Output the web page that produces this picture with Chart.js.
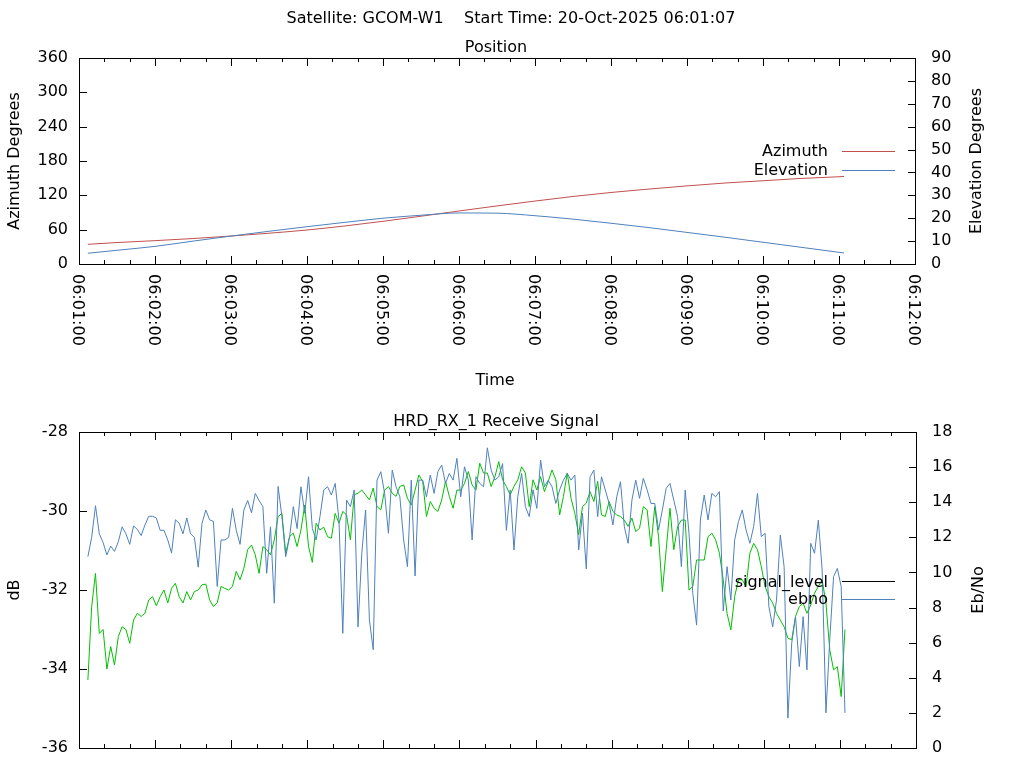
<!DOCTYPE html>
<html>
<head>
<meta charset="utf-8">
<title>GCOM-W1 pass</title>
<script src="https://cdn.jsdelivr.net/npm/chart.js@4/dist/chart.umd.min.js"></script>
<style>
  body { margin: 0; background: #fff; overflow: hidden; }
  #wrap { position: relative; width: 1024px; height: 768px; }
  canvas { position: absolute; left: 0; }
  #pos { top: 0; }
  #sig { top: 400px; }
</style>
</head>
<body>
<div id="wrap">
  <canvas id="pos" width="1024" height="400"></canvas>
  <canvas id="sig" width="1024" height="368"></canvas>
</div>
<script>
// time axis, seconds after 06:01:00
const timeMin = 0;
const timeMax = 660;
const timeTickLabels = ["06:01:00", "06:02:00", "06:03:00", "06:04:00", "06:05:00", "06:06:00",
  "06:07:00", "06:08:00", "06:09:00", "06:10:00", "06:11:00", "06:12:00"];

// position track
const posTimes = [7, 30, 60, 90, 120, 150, 180, 210, 240, 270, 300, 330, 360, 390, 420, 450, 480, 510, 540, 570, 600, 604];
const azimuth = [34.4, 37.5, 40.8, 44.5, 48.9, 53.8, 59.4, 66.5, 74.6, 83.5, 92.6, 101.5, 110, 118, 125, 131, 136.5, 141.5, 145.5, 149.5, 152.5, 153];
const elevation = [4.7, 6.0, 7.7, 10.0, 12.2, 14.3, 16.3, 18.2, 20.0, 21.3, 22.3, 22.2, 21.1, 19.6, 17.8, 15.9, 13.8, 11.7, 9.5, 7.3, 5.1, 4.8];

// receive signal, one sample every 3 s starting 06:01:07
const sigStartSec = 7;
const sigStepSec = 3;
const signalLevel = [
  -34.28, -32.42, -31.58, -33.1, -33.0, -34.0, -33.43, -33.9, -33.18, -32.93,
  -33.0, -33.35, -32.76, -32.59, -32.67, -32.59, -32.25, -32.17, -32.4, -32.17,
  -32.0, -32.33, -31.96, -31.83, -32.17, -32.33, -32.04, -32.25, -32.04, -32.0,
  -31.87, -31.85, -32.25, -32.42, -32.32, -31.91, -31.96, -32.0, -31.91, -31.53,
  -31.74, -31.45, -30.98, -30.86, -31.11, -31.58, -30.9, -30.98, -31.11, -30.73,
  -30.14,
  -30.06, -31.07, -30.65, -30.56, -30.9, -30.48, -29.85, -30.9, -31.3, -30.31,
  -30.48, -30.41, -30.65, -30.69, -30.06, -30.31, -30.01, -30.1, -30.73, -29.59,
  -29.55, -29.47, -29.59, -29.72, -29.42, -29.89, -29.97, -29.47, -29.38, -29.55,
  -29.63, -29.38, -29.34, -29.68, -29.85, -29.47, -29.09, -29.25, -30.14, -29.76,
  -29.93, -30.01, -29.72, -29.25, -29.63, -29.93, -29.47, -29.47, -29.3, -29.0,
  -29.34,
  -29.47, -28.79, -29.04, -29.04, -29.38, -29.13, -28.75, -29.21, -29.38, -29.59,
  -29.38, -29.21, -28.88, -29.04, -29.89, -29.21, -29.47, -29.13, -29.51, -29.25,
  -28.96, -29.21, -30.1, -29.63, -29.04, -29.68, -30.06, -30.6, -29.89, -29.8,
  -29.51, -29.76, -29.25, -30.1, -30.14, -29.76, -30.01, -30.1, -30.14, -30.23,
  -30.39, -30.18, -30.52, -30.44, -29.89, -29.97, -30.9, -29.89, -30.65, -32.04,
  -30.98, -29.93,
  -30.98, -30.39, -30.23, -30.23, -32.0, -31.91, -31.24, -31.24, -31.24, -30.65,
  -30.56, -30.73, -31.07, -31.74, -32.59, -33.01, -32.17, -31.74, -31.74, -31.91,
  -31.07, -30.82, -30.98, -31.41, -31.91, -32.17, -32.33, -32.59, -32.76, -32.93,
  -33.22, -33.26, -32.67, -32.42, -32.33, -32.59, -32.38, -32.08, -31.91, -31.74,
  -32.33, -33.52, -34.02, -33.94, -34.7, -33.0
];
const ebno = [
  10.9, 12.0, 13.8, 12.2, 11.7, 11.0, 11.5, 11.2, 11.75, 12.6,
  12.2, 11.6, 12.65, 12.45, 12.1, 12.7, 13.2, 13.2, 13.1, 12.4,
  12.4, 11.85, 11.1, 13.0, 12.8, 12.2, 13.1, 12.2, 12.0, 10.3,
  12.8, 13.55, 13.0, 12.9, 9.2, 11.85, 11.85, 12.0, 13.65, 12.4,
  11.6, 13.55, 14.1, 13.4, 14.5, 14.1, 13.75, 9.95, 12.6, 8.25,
  14.9,
  13.18, 10.9, 12.0, 13.75, 12.5, 14.88, 13.37, 15.45, 12.5, 11.85,
  13.18, 14.7, 14.88, 14.41, 15.07, 12.99, 6.53, 14.12, 13.75, 14.7,
  6.9, 11.09, 13.56, 7.29, 5.6, 15.26, 15.74, 14.5, 12.23, 15.83,
  14.88, 14.31, 11.85, 10.33, 15.26, 9.8, 15.26, 15.26, 14.31, 15.55,
  14.5, 15.74, 16.12, 15.07, 15.64, 15.26, 16.5, 14.31, 16.02, 15.26,
  11.85,
  15.45, 15.07, 14.88, 17.1, 15.83, 15.26, 15.45, 16.2, 12.4, 14.7,
  11.28, 14.31, 15.64, 13.75, 13.18, 14.7, 13.65, 16.4, 14.88, 15.26,
  14.88, 13.93, 14.7, 15.26, 15.64, 15.26, 15.55, 11.28, 13.37, 10.2,
  15.45, 15.83, 13.18, 15.45, 14.7, 13.93, 12.7, 14.31, 15.17, 12.61,
  11.66, 14.12, 15.26, 14.22, 15.36, 14.7, 13.93, 13.93, 12.42, 13.56,
  14.79, 15.07,
  14.12, 13.18, 10.33, 14.7, 12.23, 8.8, 7.0, 12.99, 14.41, 12.99,
  14.5, 14.31, 14.6, 7.8, 10.33, 8.43, 11.85, 12.89, 13.56, 12.42,
  11.66, 12.61, 14.5, 12.04, 12.23, 8.05, 6.9, 8.43, 12.13, 10.33,
  1.7, 5.97, 7.48, 4.64, 7.48, 4.45, 11.66, 11.09, 12.99, 10.14,
  2.0, 6.16, 9.76, 10.23, 9.19, 2.0
];

const FONT = '16px "DejaVu Sans"';
const tickFont = { family: 'DejaVu Sans', size: 16 };

function pairs(xs, ys) {
  return ys.map((v, i) => ({ x: xs[i], y: v }));
}
const sigTimes = signalLevel.map((_, i) => sigStartSec + i * sigStepSec);

function yAxis(pos, min, max, step, width, pad) {
  return {
    position: pos, min: min, max: max,
    ticks: { stepSize: step, padding: pad, font: tickFont, color: '#000', autoSkip: false },
    grid: { display: false, drawTicks: false },
    border: { display: false },
    afterFit: s => {
      s.width = width;
      // labels may hang over the plot edges, do not shrink the plot for them
      s.paddingTop = 0;
      s.paddingBottom = 0;
    }
  };
}
function xAxis(height) {
  return {
    type: 'linear', min: timeMin, max: timeMax,
    ticks: { display: false, stepSize: 60 },
    grid: { display: false, drawTicks: false },
    border: { display: false },
    afterFit: s => { s.height = height; s.paddingLeft = 0; s.paddingRight = 0; }
  };
}

function text(ctx, str, x, y, align, angle) {
  ctx.save();
  ctx.translate(x, y);
  if (angle) ctx.rotate(angle);
  ctx.textAlign = align;
  ctx.textBaseline = 'alphabetic';
  ctx.fillText(str, 0, 0);
  ctx.restore();
}

// gnuplot style border with inward ticks
function drawFrame(chart) {
  const { ctx, chartArea: a, scales } = chart;
  ctx.save();
  ctx.strokeStyle = '#000';
  ctx.lineWidth = 1;
  ctx.strokeRect(a.left + 0.5, a.top + 0.5, a.right - a.left, a.bottom - a.top);
  ctx.beginPath();
  for (let s = timeMin; s <= timeMax; s += 20) {
    const x = Math.round(scales.x.getPixelForValue(s)) + 0.5;
    const len = s % 60 === 0 ? 8 : 4;
    ctx.moveTo(x, a.bottom); ctx.lineTo(x, a.bottom - len);
    ctx.moveTo(x, a.top); ctx.lineTo(x, a.top + len);
  }
  scales.y.ticks.forEach(t => {
    const y = Math.round(scales.y.getPixelForValue(t.value)) + 0.5;
    ctx.moveTo(a.left, y); ctx.lineTo(a.left + 8, y);
  });
  scales.y2.ticks.forEach(t => {
    const y = Math.round(scales.y2.getPixelForValue(t.value)) + 0.5;
    ctx.moveTo(a.right + 1, y); ctx.lineTo(a.right - 7, y);
  });
  ctx.stroke();
  ctx.restore();
}

function drawKey(ctx, items) {
  ctx.save();
  ctx.font = FONT;
  ctx.fillStyle = '#000';
  ctx.lineWidth = 1;
  items.forEach(it => {
    text(ctx, it.label, 828, it.base, 'right');
    ctx.strokeStyle = it.color;
    ctx.beginPath();
    ctx.moveTo(842, it.line + 0.5); ctx.lineTo(895, it.line + 0.5);
    ctx.stroke();
  });
  ctx.restore();
}

const posDecor = {
  id: 'posDecor',
  afterDraw(chart) {
    const { ctx, scales } = chart;
    drawFrame(chart);
    ctx.save();
    ctx.font = FONT;
    ctx.fillStyle = '#000';
    text(ctx, 'Satellite: GCOM-W1    Start Time: 20-Oct-2025 06:01:07', 511, 23, 'center');
    text(ctx, 'Position', 496, 52, 'center');
    text(ctx, 'Azimuth Degrees', 19, 161, 'center', -Math.PI / 2);
    text(ctx, 'Elevation Degrees', 981, 161, 'center', -Math.PI / 2);
    text(ctx, 'Time', 495, 385, 'center');
    timeTickLabels.forEach((lab, i) => {
      const x = scales.x.getPixelForValue(i * 60);
      ctx.save();
      ctx.translate(x, 274);
      ctx.rotate(Math.PI / 2);
      ctx.textAlign = 'left';
      ctx.textBaseline = 'alphabetic';
      ctx.fillText(lab, 0, 5.8);
      ctx.restore();
    });
    ctx.restore();
    drawKey(ctx, [
      { label: 'Azimuth', base: 156, line: 151, color: '#c0504d' },
      { label: 'Elevation', base: 175, line: 170, color: '#4f81bd' }
    ]);
  }
};

const sigDecor = {
  id: 'sigDecor',
  afterDraw(chart) {
    const { ctx } = chart;
    drawFrame(chart);
    ctx.save();
    ctx.font = FONT;
    ctx.fillStyle = '#000';
    text(ctx, 'HRD_RX_1 Receive Signal', 496, 26, 'center');
    text(ctx, 'dB', 19, 190, 'center', -Math.PI / 2);
    text(ctx, 'Eb/No', 983, 190, 'center', -Math.PI / 2);
    ctx.restore();
    drawKey(ctx, [
      { label: 'signal_level', base: 187, line: 181, color: '#000' },
      { label: 'ebno', base: 204, line: 199, color: '#4f81bd' }
    ]);
  }
};

new Chart(document.getElementById('pos'), {
  type: 'line',
  data: {
    datasets: [
      { label: 'Azimuth', data: pairs(posTimes, azimuth), yAxisID: 'y', borderColor: '#c0504d',
        borderWidth: 1, pointRadius: 0, cubicInterpolationMode: 'monotone', order: 2 },
      { label: 'Elevation', data: pairs(posTimes, elevation), yAxisID: 'y2', borderColor: '#4f81bd',
        borderWidth: 1, pointRadius: 0, cubicInterpolationMode: 'monotone', order: 1 }
    ]
  },
  options: {
    responsive: false,
    animation: false,
    events: [],
    layout: { padding: { top: 58, left: 0, right: 0, bottom: 0 } },
    plugins: { legend: { display: false }, tooltip: { enabled: false } },
    scales: {
      x: xAxis(136),
      y: yAxis('left', 0, 360, 60, 79, 11),
      y2: yAxis('right', 0, 90, 10, 109, 16)
    }
  },
  plugins: [posDecor]
});

new Chart(document.getElementById('sig'), {
  type: 'line',
  data: {
    datasets: [
      { label: 'signal_level', data: pairs(sigTimes, signalLevel), yAxisID: 'y', borderColor: '#00c000',
        borderWidth: 1, pointRadius: 0, tension: 0, order: 2 },
      { label: 'ebno', data: pairs(sigTimes, ebno), yAxisID: 'y2', borderColor: '#4f81bd',
        borderWidth: 1, pointRadius: 0, tension: 0, order: 1 }
    ]
  },
  options: {
    responsive: false,
    animation: false,
    events: [],
    layout: { padding: { top: 32, left: 0, right: 0, bottom: 0 } },
    plugins: { legend: { display: false }, tooltip: { enabled: false } },
    scales: {
      x: xAxis(20),
      y: yAxis('left', -36, -28, 2, 79, 11),
      y2: yAxis('right', 0, 18, 2, 108, 16)
    }
  },
  plugins: [sigDecor]
});
</script>
</body>
</html>
